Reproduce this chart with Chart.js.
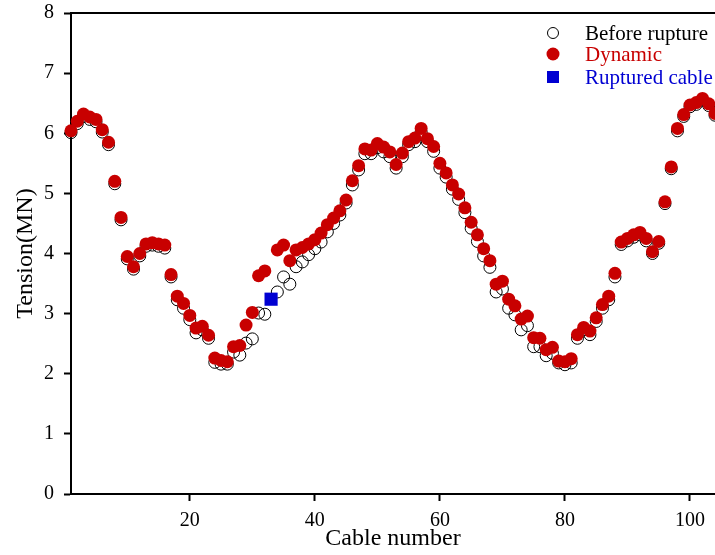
<!DOCTYPE html>
<html>
<head>
<meta charset="utf-8">
<script src="https://cdn.jsdelivr.net/npm/chart.js@4/dist/chart.umd.min.js"></script>
<style>
  html, body { margin: 0; padding: 0; background: #ffffff; }
  #wrap { width: 715px; height: 555px; }
</style>
</head>
<body>
<div id="wrap"><canvas id="c" width="715" height="555"></canvas></div>
<script>
const cableNumbers = [1,2,3,4,5,6,7,8,9,10,11,12,13,14,15,16,17,18,19,20,
  21,22,23,24,25,26,27,28,29,30,31,32,33,34,35,36,37,38,39,40,
  41,42,43,44,45,46,47,48,49,50,51,52,53,54,55,56,57,58,59,60,
  61,62,63,64,65,66,67,68,69,70,71,72,73,74,75,76,77,78,79,80,
  81,82,83,84,85,86,87,88,89,90,91,92,93,94,95,96,97,98,99,100,
  101,102,103,104];

const beforeRupture = [6.01,6.16,6.28,6.23,6.19,6.02,5.81,5.16,4.56,3.91,
  3.74,3.96,4.12,4.14,4.12,4.09,3.61,3.23,3.09,2.90,
  2.68,2.73,2.59,2.19,2.16,2.16,2.36,2.31,2.51,2.58,
  3.01,2.99,null,3.36,3.61,3.49,3.78,3.86,3.98,4.08,
  4.19,4.36,4.50,4.64,4.84,5.14,5.39,5.66,5.66,5.76,
  5.69,5.61,5.42,5.61,5.81,5.86,6.02,5.86,5.70,5.42,
  5.27,5.07,4.90,4.68,4.42,4.20,3.96,3.77,3.36,3.41,
  3.09,2.98,2.73,2.80,2.45,2.45,2.30,2.34,2.18,2.15,
  2.18,2.59,2.73,2.65,2.87,3.09,3.23,3.61,4.15,4.21,
  4.27,4.31,4.21,4.00,4.17,4.83,5.41,6.04,6.28,6.44,
  6.48,6.55,6.46,6.30];

const dynamicTension = [6.04,6.20,6.32,6.27,6.23,6.06,5.85,5.20,4.60,3.95,
  3.78,4.00,4.16,4.18,4.16,4.14,3.65,3.29,3.17,2.97,
  2.76,2.79,2.64,2.26,2.22,2.20,2.45,2.47,2.81,3.02,
  3.63,3.71,null,4.06,4.14,3.88,4.06,4.10,4.16,4.23,
  4.34,4.48,4.59,4.71,4.89,5.21,5.46,5.74,5.72,5.83,
  5.77,5.69,5.48,5.67,5.86,5.92,6.08,5.91,5.78,5.50,
  5.34,5.14,4.99,4.76,4.52,4.31,4.08,3.88,3.49,3.54,
  3.24,3.13,2.91,2.96,2.60,2.59,2.40,2.44,2.21,2.20,
  2.25,2.65,2.77,2.71,2.93,3.15,3.29,3.67,4.19,4.25,
  4.31,4.35,4.25,4.03,4.20,4.86,5.44,6.08,6.31,6.47,
  6.51,6.58,6.49,6.33];

const rupturedCable = [33];
const rupturedTension = [3.24];

const xTicks = [20, 40, 60, 80, 100];
const yTicks = [0, 1, 2, 3, 4, 5, 6, 7, 8];

const seriesNames = ['Before rupture', 'Dynamic', 'Ruptured cable'];
const seriesColors = ['#000000', '#c80000', '#0000d2'];

function toPoints(xs, ys) {
  const out = [];
  for (let i = 0; i < xs.length; i++) {
    if (ys[i] !== null && ys[i] !== undefined) out.push({ x: xs[i], y: ys[i] });
  }
  return out;
}

const SERIF = "'Liberation Serif', 'Times New Roman', serif";

const frameAndLegend = {
  id: 'frameAndLegend',
  afterDraw(chart) {
    const ctx = chart.ctx;
    const a = chart.chartArea;
    ctx.save();
    ctx.strokeStyle = '#000';
    ctx.lineWidth = 2;
    ctx.beginPath();
    ctx.moveTo(a.left - 1, a.top);
    ctx.lineTo(a.right, a.top);
    ctx.stroke();

    const mx = 553, tx = 585;
    const rows = [33, 54, 77];
    ctx.font = '21px ' + SERIF;
    ctx.textBaseline = 'middle';
    ctx.textAlign = 'left';
    ctx.beginPath();
    ctx.arc(mx, rows[0], 5.5, 0, Math.PI * 2);
    ctx.lineWidth = 1;
    ctx.strokeStyle = seriesColors[0];
    ctx.stroke();
    ctx.fillStyle = seriesColors[0];
    ctx.fillText(seriesNames[0], tx, rows[0] + 1);
    ctx.beginPath();
    ctx.arc(mx, rows[1], 6.5, 0, Math.PI * 2);
    ctx.fillStyle = seriesColors[1];
    ctx.fill();
    ctx.fillText(seriesNames[1], tx, rows[1] + 1);
    ctx.fillStyle = seriesColors[2];
    ctx.fillRect(mx - 6, rows[2] - 6, 12, 12);
    ctx.fillText(seriesNames[2], tx, rows[2] + 1);
    ctx.restore();
  }
};

new Chart(document.getElementById('c'), {
  type: 'scatter',
  data: {
    datasets: [
      {
        label: seriesNames[0],
        data: toPoints(cableNumbers, beforeRupture),
        pointStyle: 'circle',
        pointRadius: 6,
        pointBorderWidth: 1,
        pointBorderColor: seriesColors[0],
        pointBackgroundColor: 'rgba(255,255,255,0)',
        order: 3,
        clip: false
      },
      {
        label: seriesNames[1],
        data: toPoints(cableNumbers, dynamicTension),
        pointStyle: 'circle',
        pointRadius: 6.5,
        pointBorderWidth: 0,
        pointBorderColor: seriesColors[1],
        pointBackgroundColor: seriesColors[1],
        order: 2,
        clip: false
      },
      {
        label: seriesNames[2],
        data: toPoints(rupturedCable, rupturedTension),
        pointStyle: 'rect',
        pointRadius: 9.3,
        pointBorderWidth: 0,
        pointBackgroundColor: seriesColors[2],
        pointBorderColor: seriesColors[2],
        order: 1,
        clip: false
      }
    ]
  },
  options: {
    responsive: false,
    animation: false,
    devicePixelRatio: 1,
    layout: { autoPadding: false, padding: { top: 13, right: 0, left: 0, bottom: 0 } },
    plugins: {
      legend: { display: false },
      tooltip: { enabled: false }
    },
    scales: {
      x: {
        type: 'linear',
        min: 1,
        max: 104,
        afterBuildTicks: (scale) => { scale.ticks = xTicks.map(v => ({ value: v })); },
        afterFit: (scale) => {
          scale.height = 61;
          scale.paddingLeft = 0; scale.paddingRight = 0;
          scale.paddingTop = 0; scale.paddingBottom = 0;
        },
        ticks: {
          color: '#000',
          font: { family: SERIF, size: 20 },
          padding: 8,
          maxRotation: 0,
          autoSkip: false
        },
        grid: {
          display: true,
          drawOnChartArea: false,
          drawTicks: true,
          tickLength: 7,
          tickWidth: 2,
          tickColor: '#000',
          color: '#000'
        },
        border: { display: true, color: '#000', width: 2 },
        title: {
          display: true,
          text: 'Cable number',
          color: '#000',
          font: { family: SERIF, size: 24 },
          padding: { top: 0, bottom: 2 }
        }
      },
      y: {
        type: 'linear',
        min: 0,
        max: 8,
        afterBuildTicks: (scale) => { scale.ticks = yTicks.map(v => ({ value: v })); },
        afterFit: (scale) => {
          scale.width = 71;
          scale.paddingLeft = 0; scale.paddingRight = 0;
          scale.paddingTop = 0; scale.paddingBottom = 0;
        },
        ticks: {
          color: '#000',
          font: { family: SERIF, size: 20 },
          padding: 10
        },
        grid: {
          display: true,
          drawOnChartArea: false,
          drawTicks: true,
          tickLength: 7,
          tickWidth: 2,
          tickColor: '#000',
          color: '#000'
        },
        border: { display: true, color: '#000', width: 2 },
        title: {
          display: true,
          text: 'Tension(MN)',
          color: '#000',
          font: { family: SERIF, size: 24 },
          padding: { top: 11, bottom: 0 }
        }
      }
    }
  },
  plugins: [frameAndLegend]
});
</script>
</body>
</html>
